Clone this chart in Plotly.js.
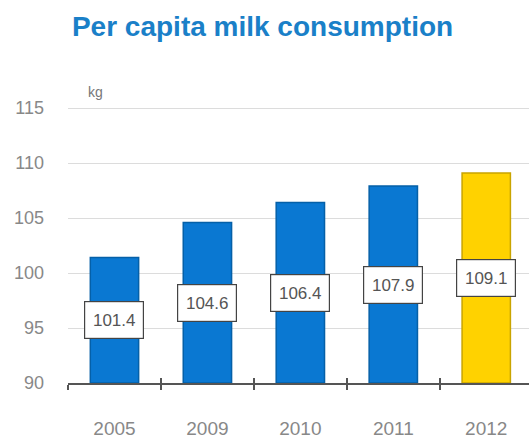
<!DOCTYPE html>
<html>
<head>
<meta charset="utf-8">
<script src="https://cdn.plot.ly/plotly-3.0.1.min.js"></script>
<style>html,body{margin:0;padding:0;background:#fff;}#chart{width:529px;height:442px;}</style>
</head>
<body>
<div id="chart"></div>
<script>
var years = ["2005", "2009", "2010", "2011", "2012"];
var consumption = [101.4, 104.6, 106.4, 107.9, 109.1];
var barColors = ["#0a78d2", "#0a78d2", "#0a78d2", "#0a78d2", "#ffd200"];
var barEdges = ["#0560a8", "#0560a8", "#0560a8", "#0560a8", "#c9a400"];
var axisBase = 90;
var yTicks = [90, 95, 100, 105, 110, 115];

var narrow = "'Liberation Sans Narrow', 'Arial Narrow', 'Liberation Sans', Arial, sans-serif";

var bars = {
  type: "bar",
  x: years,
  y: consumption.map(function (v) { return v - axisBase; }),
  base: axisBase,
  width: 0.52,
  marker: { color: barColors, line: { color: barEdges, width: 1.5 } },
  hoverinfo: "skip",
  showlegend: false
};

var ghost = {
  type: "bar", x: years, y: consumption.map(function (v) { return v - axisBase; }), base: axisBase,
  xaxis: "x2", yaxis: "y", opacity: 0, hoverinfo: "skip", showlegend: false
};

var annotations = years.map(function (yr, i) {
  return {
    x: i, y: (axisBase + consumption[i]) / 2, xref: "x", yref: "y",
    xanchor: "center", yanchor: "middle",
    text: consumption[i].toFixed(1), showarrow: false,
    font: { family: narrow, size: 17, color: "#555" },
    bgcolor: "#ffffff", bordercolor: "#444", borderwidth: 1.2,
    width: 54, height: 32, borderpad: 2
  };
});
annotations.push({
  xref: "paper", yref: "paper", x: 0.04, y: 1.0, xanchor: "left", yanchor: "bottom",
  text: "kg", showarrow: false, font: { family: narrow, size: 14, color: "#777" }, yshift: -5
});

var layout = {
  width: 529, height: 442,
  margin: { l: 68, r: 0, t: 97, b: 59 },
  paper_bgcolor: "#ffffff", plot_bgcolor: "#ffffff",
  title: {
    text: "<b>Per capita milk consumption</b>",
    x: 0.136, xanchor: "left", y: 0.94, yanchor: "middle",
    font: { family: narrow, size: 28, color: "#1a80c8" }
  },
  xaxis: {
    type: "category", range: [-0.5, 4.46],
    showgrid: false, zeroline: false,
    showline: true, linecolor: "#555", linewidth: 1.5,
    ticks: "outside", tickson: "boundaries", ticklen: 5, tickcolor: "#555", tickwidth: 1.5,
    tickfont: { family: narrow, size: 19, color: "#888" },
    ticklabelstandoff: 28
  },
  xaxis2: {
    type: "category", overlaying: "x", anchor: "y", range: [-0.5, 4.46],
    showgrid: false, zeroline: false, showline: false,
    ticks: "inside", tickson: "boundaries", ticklen: 5, tickcolor: "#555", tickwidth: 1.5,
    showticklabels: false
  },
  yaxis: {
    range: [90, 116], tickvals: yTicks,
    showgrid: true, gridcolor: "#dcdcdc", gridwidth: 1,
    zeroline: false, showline: false, ticks: "",
    tickfont: { family: narrow, size: 18, color: "#888" },
    ticklabelstandoff: 23
  },
  bargap: 0.48,
  annotations: annotations,
  showlegend: false
};

Plotly.newPlot("chart", [bars, ghost], layout, { staticPlot: true });
</script>
</body>
</html>
